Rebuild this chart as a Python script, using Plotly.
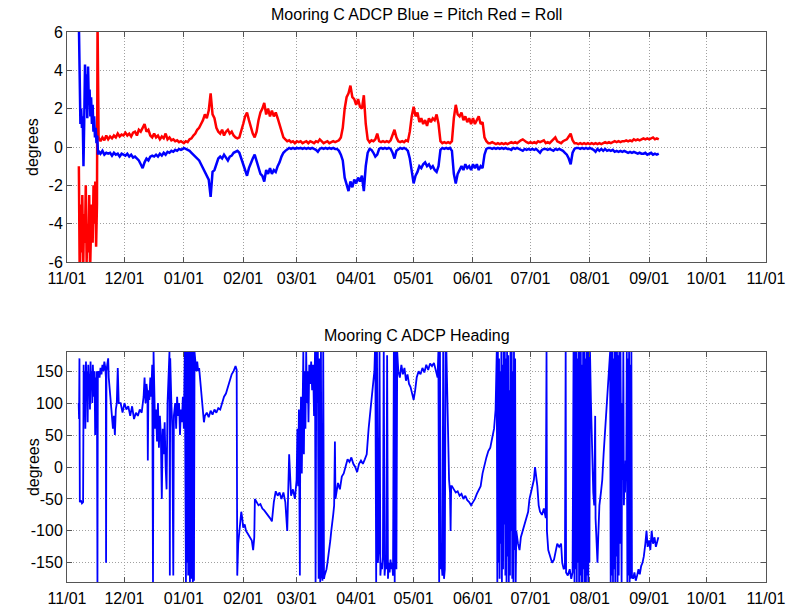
import numpy as np
import pandas as pd
import plotly.graph_objects as go

# ---------------- data (day offsets from 2008-11-01) ----------------
BASE = pd.Timestamp("2008-11-01")

month_ticks = ["2008-11-01", "2008-12-01", "2009-01-01", "2009-02-01", "2009-03-01",
               "2009-04-01", "2009-05-01", "2009-06-01", "2009-07-01", "2009-08-01",
               "2009-09-01", "2009-10-01", "2009-11-01"]
month_labels = ["11/01", "12/01", "01/01", "02/01", "03/01", "04/01", "05/01",
                "06/01", "07/01", "08/01", "09/01", "10/01", "11/01"]
pitch_roll_ticks = [-6, -4, -2, 0, 2, 4, 6]
pitch_roll_labels = ["-6", "-4", "-2", "0", "2", "4", "6"]
heading_ticks = [-150, -100, -50, 0, 50, 100, 150]
heading_labels = ["-150", "-100", "-50", "0", "50", "100", "150"]

# Roll (red)
roll_r1 = [-1, -7, -3, -5.5, -2.5, -6.5, -3.5, -5, -2, -6, -4, -5.5, -2.5, -6.5, -4.5,
           -3, -5, -2, -4, -1.8, -5.2, -3]                                  # from day 6.2, step 0.45
roll_r2 = [6.5, 0.8]                                                         # from day 15.95, step 0.25
roll_r3 = [0.5, 0.3, 0.5, 0.35, 0.6, 0.4, 0.55, 0.45, 0.6, 0.5,
           0.7, 0.55, 0.65, 0.6, 0.75, 0.6, 0.7, 0.55, 0.75, 0.8,
           0.6, 0.9, 0.8, 1.0, 1.2, 0.8, 0.9, 0.6, 0.5, 0.7,
           0.5, 0.6, 0.4, 0.55, 0.45, 0.7, 0.4, 0.5, 0.35, 0.4,
           0.3, 0.35, 0.25, 0.3, 0.25]                                       # from day 16.5, step 1
roll_r4 = [0.2, 0.3, 0.25, 0.4, 0.45, 0.6, 0.7, 0.9, 1.0, 1.2,
           1.4, 1.7, 1.5, 1.9, 2.8, 1.7, 1.5, 1.0, 0.8, 0.7,
           0.9, 0.6, 0.8, 0.9, 0.7, 0.8, 0.6, 0.5, 0.45, 0.5,
           0.8, 1.2, 1.6, 1.8, 1.4, 1.0, 0.7, 0.5, 0.8, 1.4,
           1.8, 2.0, 2.3, 1.7, 2.0, 1.6, 1.9, 1.6, 1.8, 1.5,
           1.2, 0.8, 0.5, 0.4, 0.3, 0.35, 0.25, 0.3, 0.2, 0.3,
           0.25, 0.3, 0.2, 0.25, 0.3, 0.2, 0.3, 0.25, 0.2, 0.3,
           0.25, 0.4, 0.3, 0.2, 0.25, 0.3, 0.2, 0.25, 0.3, 0.25,
           0.3, 0.35, 0.5, 1.0, 2.0, 2.6, 2.8, 3.2, 2.6, 2.5,
           2.2, 2.5, 2.1, 2.0, 2.7, 1.2, 0.4, 0.25, 0.35, 0.3,
           0.4, 0.7, 0.3, 0.25, 0.3, 0.25, 0.3, 0.25, 0.35, 0.6,
           0.9, 0.5, 0.3, 0.25, 0.3, 0.25, 0.35, 0.3, 0.8, 1.6,
           2.1, 1.6, 1.8, 1.3, 1.5, 1.2, 1.4, 1.1, 1.5, 1.3,
           1.5, 1.4, 1.7, 1.2, 0.3, 0.2, 0.25, 0.2, 0.25, 0.2,
           0.3, 1.5, 2.2, 1.7, 1.6, 1.8, 1.4, 1.6, 1.3, 1.5,
           1.2, 1.5, 1.2, 1.4, 1.6, 1.2, 1.3, 0.5, 0.3, 0.2,
           0.2, 0.25, 0.2, 0.15, 0.2, 0.15, 0.2, 0.15, 0.2, 0.15,
           0.2, 0.25, 0.2, 0.25, 0.2, 0.3, 0.35, 0.4, 0.3, 0.25,
           0.2, 0.25, 0.2, 0.25, 0.2, 0.3, 0.25, 0.3, 0.35, 0.2,
           0.25, 0.2, 0.3, 0.35, 0.5, 0.3, 0.25, 0.2, 0.3, 0.35,
           0.4, 0.55, 0.7, 0.35, 0.2, 0.2, 0.15, 0.2, 0.15, 0.2,
           0.15, 0.2, 0.15, 0.2, 0.15, 0.2, 0.15, 0.2, 0.15, 0.2,
           0.25, 0.2, 0.25, 0.2, 0.25, 0.3, 0.25, 0.3, 0.25, 0.3,
           0.3, 0.35, 0.3, 0.35, 0.3, 0.4, 0.35, 0.4, 0.35, 0.4,
           0.45, 0.4, 0.45, 0.4, 0.45, 0.5, 0.4, 0.45, 0.4]                  # from day 61, step 1

# Pitch (blue)
pitch_p1 = [6.5, 1.8, 1.2, 2.0, 1.0, 1.6, -1.0, 1.4, 4.3, 2.0,
            3.8, 1.5, 4.2, 2.2, 3.0, 1.6, 2.6, 1.2, 2.2, 0.8,
            1.6, 0.5, 1.0, 0.2, 0.6, -0.4]                                   # from day 6.2, step 0.4
pitch_p3 = [-0.2, -0.35, -0.2, -0.4, -0.3, -0.35, -0.3, -0.45, -0.3, -0.4,
            -0.35, -0.5, -0.35, -0.4, -0.45, -0.35, -0.5, -0.4, -0.55, -0.5,
            -0.6, -0.7, -0.9, -1.1, -0.8, -0.6, -0.7, -0.5, -0.45, -0.5,
            -0.4, -0.5, -0.35, -0.45, -0.3, -0.4, -0.25, -0.3, -0.2, -0.25,
            -0.15, -0.2, -0.1, -0.15, -0.1]                                  # from day 16.5, step 1
pitch_p4 = [-0.05, -0.1, -0.15, -0.2, -0.3, -0.4, -0.5, -0.6, -0.7, -0.9,
            -1.1, -1.3, -1.5, -1.7, -2.6, -1.3, -1.2, -0.9, -0.6, -0.5,
            -0.6, -0.4, -0.55, -0.7, -0.5, -0.45, -0.3, -0.25, -0.2, -0.3,
            -0.6, -0.9, -1.2, -1.5, -1.1, -0.8, -0.6, -0.4, -0.7, -1.0,
            -1.4, -1.5, -1.8, -1.2, -1.4, -1.1, -1.4, -1.2, -1.3, -1.0,
            -0.8, -0.5, -0.3, -0.2, -0.1, -0.05, -0.1, -0.05, -0.1, -0.05,
            -0.08, -0.05, -0.1, -0.05, -0.1, -0.05, -0.1, -0.05, -0.1, -0.15,
            -0.25, -0.1, -0.05, -0.1, -0.05, -0.1, -0.05, -0.1, -0.05, -0.1,
            -0.1, -0.2, -0.4, -0.7, -1.6, -2.0, -2.3, -1.8, -2.1, -1.7,
            -1.9, -1.6, -1.8, -1.5, -2.3, -1.0, -0.3, -0.1, -0.15, -0.3,
            -0.5, -0.4, -0.1, -0.05, -0.1, -0.05, -0.1, -0.05, -0.1, -0.3,
            -0.6, -0.2, -0.1, -0.05, -0.1, -0.05, -0.1, -0.2, -0.6, -1.4,
            -1.9, -1.5, -1.3, -1.0, -1.1, -0.9, -0.8, -1.0, -0.9, -1.1,
            -1.0, -1.2, -1.3, -1.0, -0.15, -0.05, -0.1, -0.05, -0.1, -0.05,
            -0.2, -1.4, -1.9, -1.4, -1.2, -1.0, -1.2, -0.9, -1.1, -1.0,
            -1.2, -0.9, -1.1, -0.9, -1.2, -1.0, -1.1, -0.4, -0.1, -0.05,
            -0.05, -0.1, -0.05, -0.1, -0.05, -0.1, -0.05, -0.1, -0.05, -0.1,
            -0.1, -0.15, -0.05, -0.1, -0.05, -0.1, -0.15, -0.2, -0.1, -0.15,
            -0.1, -0.15, -0.1, -0.15, -0.1, -0.2, -0.3, -0.15, -0.1, -0.1,
            -0.15, -0.1, -0.15, -0.2, -0.1, -0.15, -0.1, -0.15, -0.2, -0.3,
            -0.4, -0.6, -0.9, -0.3, -0.1, -0.05, -0.05, -0.1, -0.05, -0.1,
            -0.05, -0.1, -0.05, -0.1, -0.15, -0.25, -0.1, -0.2, -0.1, -0.2,
            -0.1, -0.2, -0.15, -0.2, -0.15, -0.25, -0.2, -0.25, -0.2, -0.25,
            -0.2, -0.25, -0.3, -0.25, -0.3, -0.25, -0.3, -0.35, -0.3, -0.35,
            -0.35, -0.3, -0.4, -0.35, -0.3, -0.4, -0.35, -0.4, -0.35]        # from day 61, step 1

# Heading (blue)
hd_a = [6.1, 6.3, 6.5, 6.7, 7.2, 7.8, 8.4, 8.7]
hv_a = [100, 75, 170, -55, -52, -57, -55, 160]
hv_a2 = [100, 150, 60, 165, 120, 150, 70, 160, 130, 145, 90, 165, 120, 150, 100,
         160, 140, 110, 150, 50, 140, 110, 150]                              # from day 9.0, step 0.3
hd_b = [15.9, 16.1, 16.5, 17.0, 17.5, 18.0, 18.5, 19.0, 19.5, 20.0,
        20.3, 20.4, 20.6, 21.0, 21.5, 21.8, 22.3, 22.8, 23.3, 24.0,
        24.5, 25.0, 25.5, 26.0, 26.5, 27.0]
hv_b = [-180, 140, 150, 140, 155, 145, 160, 150, 165, 155,
        140, -150, 150, 160, 170, 140, 120, 100, 75, 60,
        80, 50, 90, 100, 155, 100]
hd_c = [28, 29, 30, 31, 32, 33, 34, 35, 36, 37, 38, 39, 40,
        40.5, 41, 41.5, 42, 42.2, 42.5, 43, 43.5, 44, 44.5, 44.9, 45.2, 45.6]
hv_c = [100, 85, 100, 90, 95, 80, 95, 75, 85, 80, 90, 85, 110,
        140, 100, 130, 115, 10, 120, 105, 140, 110, 160, -180, 180, 120]
hv_d = [60, 90, 40, 100, 30, 80, 50, -50, 60, 20, 70, 0, -35, 100, 160, 180]   # from day 46, step 0.5
hd_d2 = [53.7, 53.9, 54.5, 55.0, 55.5, 55.8, 56.5, 57.0, 57.5, 58.0, 58.5, 59.0, 59.5, 60.0, 60.5, 61.0]
hv_d2 = [-170, 170, 100, 60, -170, 80, 100, 60, 110, 80, 100, 50, 90, 70, 110, 60]
hv_e = [180, -60, -180, 180, -150, 180, -170, 180, -160, -180, 180, -175, 180, -165,
        -180, 180, -178, 180]                                                 # from day 61.5, step 0.3
hd_f = [67.0, 67.5, 68.0, 68.5, 69.0, 69.5, 70.0, 70.5, 71.0, 71.5]
hv_f = [160, 150, 165, 150, 155, 140, 120, 100, 85, 70]
hv_f2 = [80, 85, 78, 88, 82, 90, 85, 92, 90, 100, 110, 115, 125, 135, 145, 150, 158]  # from day 72, step 1
hd_f3 = [88.6, 88.9]
hv_f3 = [152, -170]
hd_g = [89.4, 90.0, 90.5, 91.0, 91.5, 92.0, 92.8, 93.5, 94.5, 95.5, 96.5, 97.2, 97.8, 98.1]
hv_g = [-120, -100, -85, -70, -80, -95, -90, -100, -105, -110, -115, -130, -110, -50]
hv_g2 = [-55, -60, -58, -65, -68, -72, -75, -80, -85, -55, -38, -45, -40, -50, -40,
         -55, -100, 20, -45, -35, -50]                                        # from day 99, step 1
hd_h = [119.9, 120.3, 120.7, 121.1, 121.4, 121.6, 121.8, 122.2, 122.6, 123.0,
        123.4, 123.7, 124.1, 124.5, 124.9, 125.3, 125.7, 126.1, 126.5, 127.0,
        127.5, 128.0, 128.5, 129.0, 129.5]
hv_h = [-20, 60, -30, 90, 0, -170, 40, 110, -10, 90,
        180, 20, 150, 60, 180, 100, 150, 70, 160, 130,
        165, 120, 160, 80, 180]
hv_h2 = [-180, 180, 100, 180, -175, 170, -180, 180, -170, -178, 180, -175]   # from day 129.8, step 0.4
hv_h3 = [-170, -165, -160, -150, -140, -130, -115, -100, -90, -75, -60]      # from day 134.5, step 0.5
hd_h4 = [139.9, 140.2, 140.8]
hv_h4 = [40, -50, -40]
hv_i = [-25, -35, -15, -10, 0, 12, 8, 15, 5, 0, -8, 5, 10, 5, 12, 20, 60, 90, 120, 150]  # from 141.5, step 1
hd_i2 = [160.8]
hv_i2 = [180]
hv_j = [180, -180, 180, -150, -130, 180, -170, -150, -160, -140, 180, -170, -150, -160,
        175, -175, -150, -165, -145, -160, -150, -170, 180, -180, 180, -160, 180]  # from 161.0, step 0.44
hv_j2 = [150, 140, 160, 145, 155, 135, 145, 130, 125, 115, 105, 120]         # from 173.0, step 0.8
hv_k = [140, 150, 145, 155, 148, 160, 152, 162, 158, 163, 150]               # from 182.6, step 1
hv_k2 = [140, 180, -180, 180, -160, -150, -170, 180, -175, -160, 180, 180]   # from 193.5, step 0.42
hd_l = [198.6, 199.0, 199.5, 200.0, 200.3, 200.6]
hv_l = [100, 50, -20, -40, -100, -30]
hv_l2 = [-30, -35, -40, -38, -45, -42, -50, -45, -52, -55, -60, -55, -50, -42, -35, -30,
         -10, 5, 15, 25, 30, 45, 60]                                           # from 201, step 1
hd_l3 = [223.8]
hv_l3 = [90]
hv_m = [180, -180, 180, -150, 170, -175, 150, -120, 180, -180, 160, -160, 180, -90, 180,
        -170, 170, -180, 180, -140, 175, -180, 120, -170, 180, -100, 180, -175, 150, -180,
        180, -130, 170, -180, -100]                                            # from 224.4, step 0.3
hd_n = [235.5, 236.3, 237.0, 238.0, 239.0, 240.0, 240.8, 241.5, 242.3, 243.0,
        243.8, 244.4, 245.0, 245.6, 246.3, 247.0, 248.0, 249.0, 250.0, 250.4,
        250.6, 251.3, 252.3, 253.3, 254.3, 255.2, 256.0, 257.0, 258.0, 258.6,
        259.4, 260.0, 260.4, 260.6, 261.5, 262.5, 263.3, 264.0, 264.5]
hv_n = [-120, -130, -110, -100, -90, -80, -70, -50, -40, -30,
        -20, 0, -15, -30, -60, -70, -75, -65, -80, 180,
        -100, -130, -140, -150, -145, -130, -120, -125, -120, -150,
        -160, -155, 180, -165, -170, -160, -175, -165, 180]
hv_o = [-180, 180, -160, 180, -180, 170, -150, 180, -180, 180, -170, 180, -180, 160,
        -180, 180, -160, 180, -180, 170, -180, 180, -170, 180, -180, 180, -150, 180]  # from 265, step 0.3
hd_p = [273.6, 274.2, 274.8, 275.3, 275.8, 276.0, 276.5, 277.0, 277.4, 278.0,
        278.8, 279.5, 280.2, 281.0, 281.8, 282.5, 283.2]
hv_p = [100, 20, -40, -60, 80, -80, -120, -150, -110, -60,
        -40, -20, 20, 60, 100, 120, 160]
hv_q = [180, -180, 180, -170, 180, -180, 170, -160, 180, -180,
        180, -140, 180, -180, 175, -170, 180, -120, 180, 40,
        -180, 100, -20, 180, -60, -20, -40, 10, -20, 180,
        -180, 170, -170, 180, -180, 160, -175, 180, -170]                     # from 283.6, step 0.3
hd_r = [295.6, 296.3, 297.0, 297.7, 298.4, 299.1, 299.8, 300.5, 301.2, 302.0,
        302.6, 303.2, 304.0, 304.6, 305.3, 306.0, 306.8, 307.5, 308.2, 308.8]
hv_r = [-175, -165, -178, -170, -160, -168, -155, -150, -140, -120,
        -100, -125, -115, -130, -100, -120, -110, -125, -115, -110]


def seg(start, step, vals):
    return [start + step * i for i in range(len(vals))]


roll_days = seg(6.2, 0.45, roll_r1) + seg(15.95, 0.25, roll_r2) + seg(16.5, 1, roll_r3) + seg(61, 1, roll_r4)
roll_vals = roll_r1 + roll_r2 + roll_r3 + roll_r4
pitch_days = seg(6.2, 0.4, pitch_p1) + seg(16.5, 1, pitch_p3) + seg(61, 1, pitch_p4)
pitch_vals = pitch_p1 + pitch_p3 + pitch_p4

head_parts = [
    (hd_a, hv_a), (seg(9.0, 0.3, hv_a2), hv_a2), (hd_b, hv_b), (hd_c, hv_c),
    (seg(46.0, 0.5, hv_d), hv_d), (hd_d2, hv_d2), (seg(61.5, 0.3, hv_e), hv_e),
    (hd_f, hv_f), (seg(72, 1, hv_f2), hv_f2), (hd_f3, hv_f3), (hd_g, hv_g),
    (seg(99, 1, hv_g2), hv_g2), (hd_h, hv_h), (seg(129.8, 0.4, hv_h2), hv_h2),
    (seg(134.5, 0.5, hv_h3), hv_h3), (hd_h4, hv_h4), (seg(141.5, 1, hv_i), hv_i),
    (hd_i2, hv_i2), (seg(161.0, 0.44, hv_j), hv_j), (seg(173.0, 0.8, hv_j2), hv_j2),
    (seg(182.6, 1, hv_k), hv_k), (seg(193.5, 0.42, hv_k2), hv_k2), (hd_l, hv_l),
    (seg(201, 1, hv_l2), hv_l2), (hd_l3, hv_l3), (seg(224.4, 0.3, hv_m), hv_m),
    (hd_n, hv_n), (seg(265.0, 0.3, hv_o), hv_o), (hd_p, hv_p),
    (seg(283.6, 0.3, hv_q), hv_q), (hd_r, hv_r),
]
head_days, head_vals = [], []
for d, v in head_parts:
    assert len(d) == len(v)
    head_days += list(d)
    head_vals += list(v)


def to_dates(days):
    return BASE + pd.to_timedelta(np.array(days, dtype=float), unit="D")


# ---------------- figure ----------------
FONT = "Liberation Sans, Arial, sans-serif"
fig = go.Figure()
fig.add_trace(go.Scatter(x=to_dates(roll_days), y=roll_vals, mode="lines",
                         line=dict(color="#ff0000", width=2.5), xaxis="x", yaxis="y"))
fig.add_trace(go.Scatter(x=to_dates(pitch_days), y=pitch_vals, mode="lines",
                         line=dict(color="#0000ff", width=2.5), xaxis="x", yaxis="y"))
fig.add_trace(go.Scatter(x=to_dates(head_days), y=head_vals, mode="lines",
                         line=dict(color="#0000ff", width=1.8), xaxis="x2", yaxis="y2"))

axis_common = dict(showline=True, mirror="ticks", linecolor="#555555", linewidth=1,
                   ticks="inside", ticklen=5, tickcolor="#555555",
                   showgrid=True, gridcolor="#a0a0a0", griddash="1px,2px", gridwidth=1,
                   zeroline=False, automargin=False,
                   tickfont=dict(family=FONT, size=16, color="black"))
xcommon = dict(axis_common, type="date", range=["2008-11-01", "2009-11-01"],
               tickmode="array", tickvals=month_ticks, ticktext=month_labels,
               ticklabelstandoff=2)

fig.update_layout(
    width=786, height=608,
    margin=dict(l=67, r=20, t=32, b=26),
    paper_bgcolor="white", plot_bgcolor="white",
    showlegend=False,
    xaxis=dict(xcommon, anchor="y", domain=[0, 1]),
    yaxis=dict(axis_common, anchor="x", domain=[0.5818, 1], range=[-6, 6],
               tickmode="array", tickvals=pitch_roll_ticks, ticktext=pitch_roll_labels),
    xaxis2=dict(xcommon, anchor="y2", domain=[0, 1]),
    yaxis2=dict(axis_common, anchor="x2", domain=[0, 0.4182], range=[-180, 180],
                tickmode="array", tickvals=heading_ticks, ticktext=heading_labels),
    annotations=[
        dict(text="Mooring C ADCP Blue = Pitch Red = Roll", xref="paper", yref="paper",
             x=0.5, y=1.031, xanchor="center", yanchor="middle", showarrow=False,
             font=dict(family=FONT, size=16, color="black")),
        dict(text="Mooring C ADCP Heading", xref="paper", yref="paper",
             x=0.5, y=0.449, xanchor="center", yanchor="middle", showarrow=False,
             font=dict(family=FONT, size=16, color="black")),
        dict(text="degrees", xref="paper", yref="paper", x=-0.0486, y=0.791,
             xanchor="center", yanchor="middle", textangle=-90, showarrow=False,
             font=dict(family=FONT, size=16, color="black")),
        dict(text="degrees", xref="paper", yref="paper", x=-0.0486, y=0.209,
             xanchor="center", yanchor="middle", textangle=-90, showarrow=False,
             font=dict(family=FONT, size=16, color="black")),
    ],
)

# remove the default page margin so the 786x608 figure fills the window exactly
fig.write_html("out.html", config={"displayModeBar": False},
               post_script="document.body.style.margin='0px';document.body.style.overflow='hidden';")
